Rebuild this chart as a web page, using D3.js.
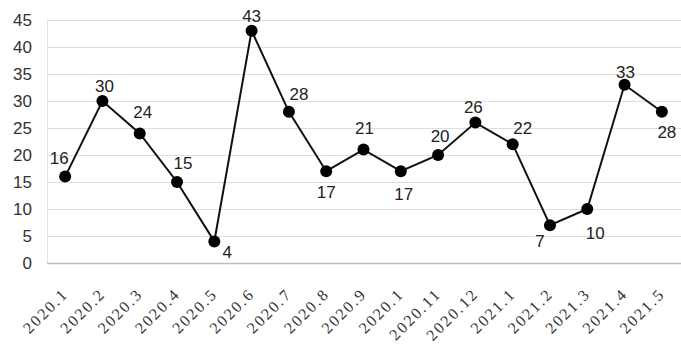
<!DOCTYPE html>
<html>
<head>
<meta charset="utf-8">
<script src="https://cdn.jsdelivr.net/npm/d3@7"></script>
<style>
  body { margin: 0; background: #fff; }
</style>
</head>
<body>
<script>
var months = ["2020.1", "2020.2", "2020.3", "2020.4", "2020.5", "2020.6", "2020.7", "2020.8",
  "2020.9", "2020.1", "2020.11", "2020.12", "2021.1", "2021.2", "2021.3", "2021.4", "2021.5"];
var counts = [16, 30, 24, 15, 4, 43, 28, 17, 21, 17, 20, 26, 22, 7, 10, 33, 28];
var yTicks = [0, 5, 10, 15, 20, 25, 30, 35, 40, 45];

var width = 681;
var height = 345;

// where each value label sits relative to its point [dx, dy]
var labelOffsets = [[-6, -13], [2, -9], [3, -15], [6, -13], [13, 17], [0, -9], [10, -12],
  [0, 27], [1, -16], [3, 29], [2, -13], [-2, -10], [10, -10], [-10, 22], [8, 30], [1, -7], [5, 26]];

var svg = d3.select("body")
  .append("svg")
  .attr("width", width)
  .attr("height", height);

var x = d3.scalePoint()
  .domain(d3.range(months.length))
  .range([46.5, 680.5])
  .padding(0.5);

var y = d3.scaleLinear()
  .domain([0, 45])
  .range([263, 20]);

// gridlines
svg.selectAll("line.grid")
  .data(yTicks.slice(1))
  .enter()
  .append("line")
  .attr("class", "grid")
  .attr("x1", 47)
  .attr("x2", 681)
  .attr("y1", function(d) { return Math.round(y(d)) + 0.5; })
  .attr("y2", function(d) { return Math.round(y(d)) + 0.5; })
  .attr("stroke", "#dedede")
  .attr("stroke-width", 1.2);

svg.append("line")
  .attr("x1", 47.5).attr("x2", 47.5)
  .attr("y1", y(45)).attr("y2", y(0))
  .attr("stroke", "#e2e2e2");

svg.append("line")
  .attr("x1", 47).attr("x2", 681)
  .attr("y1", Math.round(y(0)) + 0.5).attr("y2", Math.round(y(0)) + 0.5)
  .attr("stroke", "#bdbdbd")
  .attr("stroke-width", 1.3);

// y tick labels
svg.selectAll("text.ytick")
  .data(yTicks)
  .enter()
  .append("text")
  .attr("class", "ytick")
  .attr("x", 32)
  .attr("y", function(d) { return y(d) + 6; })
  .attr("text-anchor", "end")
  .attr("font-family", "Liberation Sans, Arial, sans-serif")
  .attr("font-size", "17px")
  .attr("fill", "#333")
  .text(function(d) { return d; });

// x tick labels
svg.selectAll("text.xtick")
  .data(months)
  .enter()
  .append("text")
  .attr("class", "xtick")
  .attr("transform", function(d, i) { return "translate(" + (x(i) + 4) + ",295) rotate(-45)"; })
  .attr("text-anchor", "end")
  .attr("font-family", "Liberation Serif, Times New Roman, serif")
  .attr("font-size", "16px")
  .attr("letter-spacing", "2px")
  .attr("fill", "#333")
  .text(function(d) { return d; });

// line
var line = d3.line()
  .x(function(d, i) { return x(i); })
  .y(function(d) { return y(d); });

svg.append("path")
  .datum(counts)
  .attr("d", line)
  .attr("fill", "none")
  .attr("stroke", "#111")
  .attr("stroke-width", 2);

svg.selectAll("circle")
  .data(counts)
  .enter()
  .append("circle")
  .attr("cx", function(d, i) { return x(i); })
  .attr("cy", function(d) { return y(d); })
  .attr("r", 6)
  .attr("fill", "#000");

// value labels
svg.selectAll("text.value")
  .data(counts)
  .enter()
  .append("text")
  .attr("class", "value")
  .attr("x", function(d, i) { return x(i) + labelOffsets[i][0]; })
  .attr("y", function(d, i) { return y(d) + labelOffsets[i][1]; })
  .attr("text-anchor", "middle")
  .attr("font-family", "Liberation Sans, Arial, sans-serif")
  .attr("font-size", "17px")
  .attr("fill", "#222")
  .text(function(d) { return d; });
</script>
</body>
</html>
